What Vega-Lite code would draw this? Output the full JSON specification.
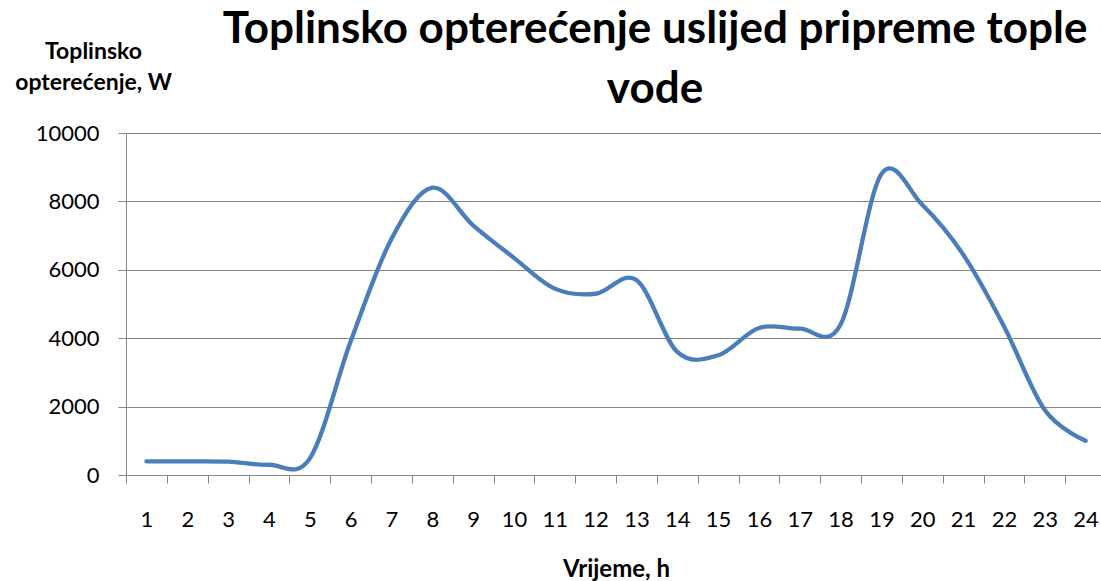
{
  "$schema": "https://vega.github.io/schema/vega-lite/v6.json",
  "autosize": {"type": "none"},
  "padding": {"left": 126, "top": 133, "right": 0, "bottom": 106},
  "width": 980,
  "height": 342,
  "background": "white",
  "config": {"view": {"stroke": null}, "font": "Lato"},
  "title": {
    "text": ["Toplinsko opterećenje uslijed pripreme tople", "vode"],
    "font": "Lato",
    "fontSize": 44,
    "fontWeight": "bold",
    "lineHeight": 60,
    "color": "black",
    "anchor": "middle",
    "dx": 39,
    "dy": 76
  },
  "data": {
    "values": [
      {"h": 1, "W": 400},
      {"h": 2, "W": 400},
      {"h": 3, "W": 390},
      {"h": 4, "W": 300},
      {"h": 5, "W": 480},
      {"h": 6, "W": 3900},
      {"h": 7, "W": 6900},
      {"h": 8, "W": 8400},
      {"h": 9, "W": 7300},
      {"h": 10, "W": 6350},
      {"h": 11, "W": 5450},
      {"h": 12, "W": 5300},
      {"h": 13, "W": 5700},
      {"h": 14, "W": 3600},
      {"h": 15, "W": 3500},
      {"h": 16, "W": 4300},
      {"h": 17, "W": 4280},
      {"h": 18, "W": 4400},
      {"h": 19, "W": 8800},
      {"h": 20, "W": 7900},
      {"h": 21, "W": 6450},
      {"h": 22, "W": 4350},
      {"h": 23, "W": 1900},
      {"h": 24, "W": 1000}
    ]
  },
  "mark": {"type": "line", "interpolate": "cardinal", "color": "#4A7EBB", "strokeWidth": 4.3, "strokeCap": "round", "strokeJoin": "round"},
  "encoding": {
    "x": {
      "field": "h",
      "type": "ordinal",
      "bandPosition": 0.5,
      "scale": {"type": "band", "paddingInner": 0, "paddingOuter": 0},
      "axis": {
        "title": "Vrijeme, h",
        "titleFont": "Lato",
        "titleFontSize": 24,
        "titleFontWeight": "bold",
        "titleColor": "black",
        "titleBaseline": "alphabetic",
        "titleY": 101,
        "labelAngle": 0,
        "labelFont": "Lato",
        "labelFontSize": 22,
        "labelColor": "black",
        "labelBaseline": "alphabetic",
        "labelPadding": 43,
        "tickBand": "extent",
        "ticks": true,
        "tickSize": 8,
        "tickColor": "#868686",
        "domainColor": "#868686",
        "grid": false
      }
    },
    "y": {
      "field": "W",
      "type": "quantitative",
      "scale": {"domain": [0, 10000], "nice": false},
      "axis": {
        "values": [0, 2000, 4000, 6000, 8000, 10000],
        "format": "d",
        "title": ["Toplinsko", "opterećenje, W"],
        "titleAngle": 0,
        "titleFont": "Lato",
        "titleFontSize": 23,
        "titleFontWeight": "bold",
        "titleColor": "black",
        "titleAlign": "center",
        "titleBaseline": "alphabetic",
        "titleLineHeight": 31,
        "titleX": -33,
        "titleY": -75,
        "labelFont": "Lato",
        "labelFontSize": 22,
        "labelColor": "black",
        "labelPadding": 19,
        "tickSize": 8,
        "tickColor": "#868686",
        "domainColor": "#868686",
        "grid": true,
        "gridColor": "#868686",
        "gridOpacity": 1
      }
    }
  }
}
